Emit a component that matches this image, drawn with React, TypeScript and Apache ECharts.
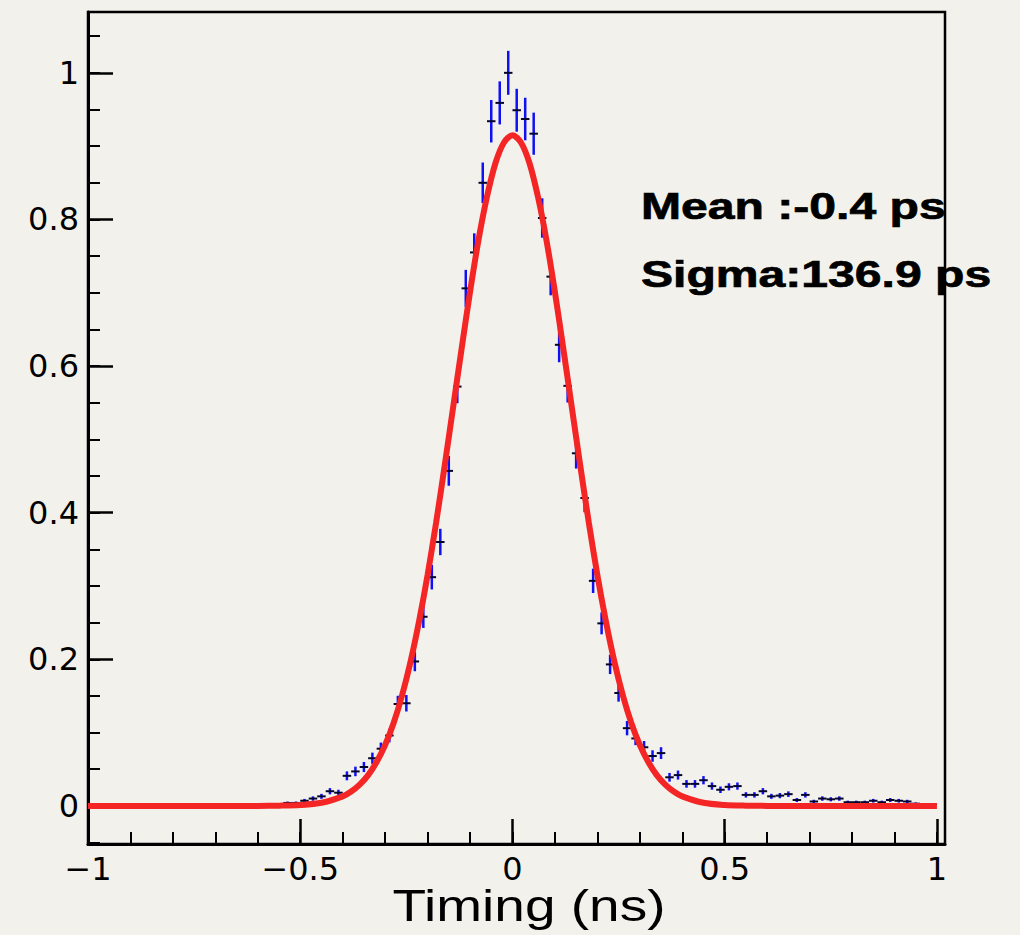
import React, { useEffect, useRef } from "react";
import * as echarts from "echarts";

// Histogram: 100 bins of width 0.02 ns from -1 to 1 (normalised counts)
const BIN_LOW = -1;
const BIN_WIDTH = 0.02;
const COUNTS = [
  0, 0, 0, 0, 0, 0, 0, 0, 0, 0,
  0, 0, 0, 0, 0, 0, 0, 0, 0, 0,
  0, 0, 0.001, 0.004, 0.004, 0.007, 0.010, 0.013, 0.020, 0.018,
  0.041, 0.047, 0.053, 0.065, 0.078, 0.096, 0.139, 0.140, 0.197, 0.258,
  0.312, 0.360, 0.457, 0.572, 0.706, 0.755, 0.850, 0.934, 0.959, 1.000,
  0.949, 0.937, 0.917, 0.802, 0.722, 0.629, 0.573, 0.481, 0.420, 0.307,
  0.249, 0.193, 0.154, 0.106, 0.092, 0.080, 0.068, 0.072, 0.039, 0.042,
  0.030, 0.030, 0.035, 0.027, 0.022, 0.026, 0.027, 0.015, 0.015, 0.020,
  0.013, 0.014, 0.016, 0.008, 0.015, 0.006, 0.010, 0.009, 0.010, 0.005,
  0.005, 0.005, 0.007, 0.005, 0.008, 0.007, 0.006, 0.003, 0.002, 0.002,
];
// statistical (sqrt N) error per unit sqrt of normalised content
const ERR_PER_SQRT = 0.03;

// Gaussian fit curve
const FIT_X = [
  -1, -0.9, -0.8, -0.7, -0.6, -0.55, -0.5, -0.45, -0.4, -0.38, -0.36, -0.34, -0.32, -0.3,
  -0.28, -0.26, -0.24, -0.22, -0.2, -0.18, -0.16, -0.14, -0.12, -0.1, -0.08, -0.06, -0.04, -0.02,
  0, 0.02, 0.04, 0.06, 0.08, 0.1, 0.12, 0.14, 0.16, 0.18, 0.2, 0.22, 0.24, 0.26, 0.28, 0.3,
  0.32, 0.34, 0.36, 0.38, 0.4, 0.45, 0.5, 0.55, 0.6, 0.7, 0.8, 0.9, 1.0,
];
const FIT_Y = [
  0, 0, 0, 0, 0, 0.0003, 0.0012, 0.0042, 0.0129, 0.0195, 0.029, 0.042, 0.060, 0.083,
  0.113, 0.151, 0.197, 0.252, 0.315, 0.386, 0.463, 0.543, 0.623, 0.701, 0.772, 0.831, 0.877, 0.905,
  0.915, 0.905, 0.877, 0.831, 0.772, 0.701, 0.623, 0.543, 0.463, 0.386, 0.315, 0.252, 0.197, 0.151, 0.113, 0.083,
  0.060, 0.042, 0.029, 0.0195, 0.0129, 0.0042, 0.0012, 0.0003, 0, 0, 0, 0, 0,
];

const X_MAJOR = [-1, -0.5, 0, 0.5, 1];
const X_MINOR = [-1, -0.9, -0.8, -0.7, -0.6, -0.5, -0.4, -0.3, -0.2, -0.1, 0, 0.1, 0.2, 0.3, 0.4, 0.5, 0.6, 0.7, 0.8, 0.9, 1];
const Y_MAJOR = [0, 0.2, 0.4, 0.6, 0.8, 1];
const Y_MINOR = [-0.05, 0, 0.05, 0.1, 0.15, 0.2, 0.25, 0.3, 0.35, 0.4, 0.45, 0.5, 0.55, 0.6, 0.65, 0.7, 0.75, 0.8, 0.85, 0.9, 0.95, 1, 1.05];

const STATS = ["Mean :-0.4 ps", "Sigma:136.9 ps"];
const X_TITLE = "Timing (ns)";

const X_MIN = -1;
const X_MAX = 1.019;
const Y_MIN = -0.052;
const Y_MAX = 1.083;

const fmt = (v: number) => {
  const r = Math.round(v * 10) / 10;
  return String(r).replace("-", "\u2212");
};

export default function App() {
  const ref = useRef<HTMLDivElement>(null);
  useEffect(() => {
    if (!ref.current) return;
    const chart = echarts.init(ref.current, null, { renderer: "svg" });

    const histData = COUNTS.map((v, i) => [
      BIN_LOW + BIN_WIDTH * (i + 0.5),
      v,
      ERR_PER_SQRT * Math.sqrt(v),
    ]).filter((d) => d[1] > 0);

    const labelStyle = {
      fontFamily: "DejaVu Sans",
      fontSize: 32,
      color: "#000",
    };

    const statStyle = {
      fontFamily: "Liberation Sans",
      fontWeight: "bold",
      fontSize: 37,
      fill: "#000",
      stroke: "#000",
      lineWidth: 0.7,
      align: "left",
      verticalAlign: "middle",
    };

    const option: any = {
      animation: false,
      backgroundColor: "#f3f1ec",
      grid: {
        left: 88,
        top: 12,
        right: 75,
        bottom: 91,
        show: true,
        borderColor: "#000",
        borderWidth: 2.5,
        backgroundColor: "transparent",
      },
      xAxis: [
        {
          type: "value",
          min: X_MIN,
          max: X_MAX,
          position: "bottom",
          axisLine: { show: true, onZero: false, lineStyle: { color: "#000", width: 3 } },
          axisTick: {
            show: true,
            inside: true,
            length: 25,
            customValues: X_MAJOR,
            lineStyle: { color: "#000", width: 2.5 },
          },
          axisLabel: { ...labelStyle, customValues: X_MAJOR, formatter: fmt, margin: 9 },
          splitLine: { show: false },
        },
        {
          type: "value",
          min: X_MIN,
          max: X_MAX,
          position: "bottom",
          axisLine: { show: false, onZero: false },
          axisTick: {
            show: true,
            inside: true,
            length: 12,
            customValues: X_MINOR,
            lineStyle: { color: "#000", width: 2 },
          },
          axisLabel: { show: false },
          splitLine: { show: false },
        },
      ],
      yAxis: [
        {
          type: "value",
          min: Y_MIN,
          max: Y_MAX,
          position: "left",
          axisLine: { show: true, onZero: false, lineStyle: { color: "#000", width: 3 } },
          axisTick: {
            show: true,
            inside: true,
            length: 25,
            customValues: Y_MAJOR,
            lineStyle: { color: "#000", width: 2.5 },
          },
          axisLabel: { ...labelStyle, customValues: Y_MAJOR, formatter: fmt, margin: 9 },
          splitLine: { show: false },
        },
        {
          type: "value",
          min: Y_MIN,
          max: Y_MAX,
          position: "left",
          axisLine: { show: false, onZero: false },
          axisTick: {
            show: true,
            inside: true,
            length: 12,
            customValues: Y_MINOR,
            lineStyle: { color: "#000", width: 2 },
          },
          axisLabel: { show: false },
          splitLine: { show: false },
        },
      ],
      series: [
        {
          type: "custom",
          name: "data",
          xAxisIndex: 0,
          yAxisIndex: 0,
          data: histData,
          encode: { x: 0, y: 1 },
          clip: true,
          z: 2,
          renderItem: (params: any, api: any) => {
            const x = api.value(0);
            const v = api.value(1);
            const e = api.value(2);
            const top = api.coord([x, v + e]);
            const bot = api.coord([x, v - e]);
            const l = api.coord([x - BIN_WIDTH / 2, v]);
            const r = api.coord([x + BIN_WIDTH / 2, v]);
            return {
              type: "group",
              children: [
                {
                  type: "line",
                  shape: { x1: top[0], y1: top[1], x2: bot[0], y2: bot[1] },
                  style: { stroke: "#1010f5", lineWidth: 2.5 },
                },
                {
                  type: "line",
                  shape: { x1: l[0], y1: l[1], x2: r[0], y2: r[1] },
                  style: { stroke: "#05052a", lineWidth: 2 },
                },
              ],
            };
          },
        },
        {
          type: "line",
          name: "fit",
          xAxisIndex: 0,
          yAxisIndex: 0,
          data: FIT_X.map((x, i) => [x, FIT_Y[i]]),
          showSymbol: false,
          smooth: 0.3,
          z: 3,
          lineStyle: { color: "#f42525", width: 6 },
        },
      ],
      graphic: [
        {
          type: "text",
          x: 641,
          y: 206,
          scaleX: 1.3,
          z: 10,
          style: { ...statStyle, text: STATS[0] },
        },
        {
          type: "text",
          x: 641,
          y: 274,
          scaleX: 1.3,
          z: 10,
          style: { ...statStyle, text: STATS[1] },
        },
        {
          type: "text",
          x: 529,
          y: 906,
          scaleX: 1.25,
          z: 10,
          style: {
            text: X_TITLE,
            fontFamily: "Liberation Sans",
            fontSize: 44,
            fill: "#000",
            align: "center",
            verticalAlign: "middle",
          },
        },
      ],
    };

    chart.setOption(option);
    return () => chart.dispose();
  }, []);

  return (
    <div
      ref={ref}
      style={{ position: "fixed", left: 0, top: 0, width: 1020, height: 935 }}
    />
  );
}
